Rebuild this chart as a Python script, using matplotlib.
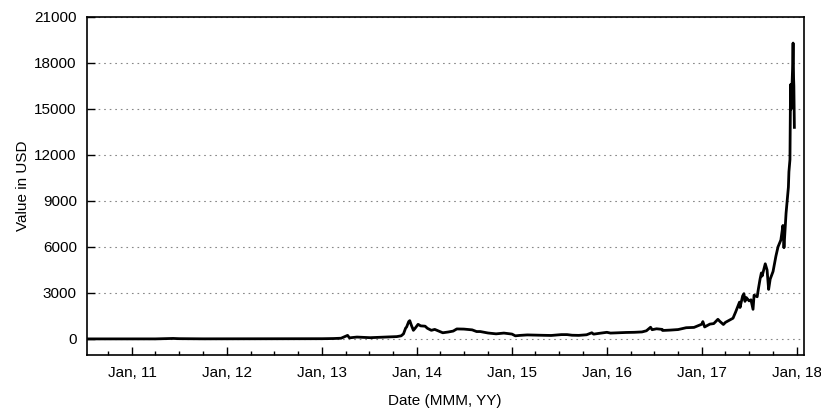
import matplotlib
matplotlib.use("Agg")
import matplotlib.pyplot as plt
import matplotlib.dates as mdates
import numpy as np
import pandas as pd

plt.rcParams['font.family'] = ['Liberation Sans', 'DejaVu Sans']

dates = [
    "2010-07-17", "2010-10-01", "2011-01-01", "2011-04-01", "2011-06-08", "2011-07-01",
    "2011-10-01", "2012-01-01", "2012-04-01", "2012-07-01", "2012-10-01", "2013-01-01",
    "2013-02-15", "2013-03-15", "2013-04-09", "2013-04-16", "2013-05-15", "2013-06-15",
    "2013-07-05", "2013-08-15", "2013-09-15", "2013-10-15", "2013-11-01", "2013-11-10",
    "2013-11-18", "2013-11-22", "2013-11-30", "2013-12-04", "2013-12-10", "2013-12-18",
    "2013-12-24", "2014-01-05", "2014-01-15", "2014-02-01", "2014-02-10", "2014-02-25",
    "2014-03-10", "2014-04-10", "2014-05-01", "2014-05-20", "2014-06-03", "2014-06-30",
    "2014-08-01", "2014-08-18", "2014-09-01", "2014-10-01", "2014-11-01", "2014-12-01",
    "2015-01-01", "2015-01-14", "2015-02-01", "2015-03-01", "2015-04-01", "2015-05-01",
    "2015-06-01", "2015-07-10", "2015-08-01", "2015-08-20", "2015-09-15", "2015-10-15",
    "2015-11-04", "2015-11-11", "2015-12-01", "2016-01-01", "2016-01-15", "2016-02-15",
    "2016-03-15", "2016-04-15", "2016-05-15", "2016-06-01", "2016-06-17", "2016-06-23",
    "2016-07-10", "2016-08-01", "2016-08-02", "2016-09-01", "2016-10-01", "2016-11-01",
    "2016-12-01", "2016-12-31", "2017-01-04", "2017-01-11", "2017-01-31", "2017-02-15",
    "2017-03-03", "2017-03-10", "2017-03-24", "2017-04-01", "2017-04-30", "2017-05-10",
    "2017-05-25", "2017-05-27", "2017-06-06", "2017-06-11", "2017-06-15", "2017-06-20",
    "2017-07-01", "2017-07-08", "2017-07-16", "2017-07-20", "2017-08-01", "2017-08-05",
    "2017-08-12", "2017-08-17", "2017-08-20", "2017-09-01", "2017-09-08", "2017-09-14",
    "2017-09-20", "2017-10-01", "2017-10-12", "2017-10-20", "2017-10-31", "2017-11-08",
    "2017-11-12", "2017-11-20", "2017-11-26", "2017-11-29", "2017-12-01", "2017-12-05",
    "2017-12-07", "2017-12-08", "2017-12-10", "2017-12-13", "2017-12-15", "2017-12-17",
    "2017-12-19", "2017-12-20", "2017-12-22",
]
prices = [
    0.05, 0.1, 0.3, 0.8, 30, 15,
    4, 5, 5, 7, 12, 13,
    25, 45, 230, 70, 120, 100,
    80, 105, 130, 150, 200, 330,
    700, 780, 1130, 1190, 900, 560,
    680, 950, 850, 830, 690, 560,
    620, 400, 450, 510, 650, 640,
    590, 480, 480, 385, 330, 380,
    315, 200, 230, 260, 245, 235,
    225, 280, 280, 240, 230, 270,
    400, 310, 360, 430, 380, 400,
    420, 430, 455, 530, 760, 600,
    660, 620, 550, 575, 610, 730,
    750, 960, 1130, 780, 965, 1000,
    1280, 1150, 940, 1080, 1350, 1750,
    2400, 2050, 2800, 2950, 2450, 2700,
    2480, 2550, 1930, 2850, 2750, 3200,
    3900, 4300, 4100, 4900, 4500, 3230,
    3900, 4400, 5400, 6000, 6450, 7400,
    5950, 8200, 9300, 9900, 10900, 11700,
    16000, 16600, 15000, 16500, 17600, 19300,
    17000, 16500, 13800,
]

x = pd.to_datetime(dates)

W, H = 821, 408
fig = plt.figure(figsize=(W / 100, H / 100), dpi=100)
ax = fig.add_axes([86.5 / W, (H - 355) / H, (804 - 86.5) / W, (355 - 17) / H])

ax.plot(x, prices, color='black', lw=2.0, zorder=3, solid_joinstyle='round')

ax.set_ylim(-1050, 21000)
ax.set_xlim(pd.Timestamp("2010-07-10"), pd.Timestamp("2018-01-28"))
ax.set_yticks(np.arange(0, 21001, 3000))
ax.yaxis.grid(True, linestyle=(0, (1.5, 3.5)), color='#888888', lw=0.8)
ax.set_axisbelow(True)

ax.xaxis.set_major_locator(mdates.YearLocator())
ax.xaxis.set_major_formatter(mdates.DateFormatter("Jan, %y"))
ax.xaxis.set_minor_locator(mdates.MonthLocator(bymonth=[4, 7, 10]))

ax.tick_params(axis='x', which='major', direction='in', length=6, width=1, labelsize=11, pad=8)
ax.tick_params(axis='x', which='minor', direction='in', length=3, width=1)
ax.tick_params(axis='y', direction='in', length=6, width=1, labelsize=11, pad=7)
ax.tick_params(top=False, right=False)

for s in ax.spines.values():
    s.set_linewidth(1.2)

ax.set_xlabel("Date (MMM, YY)", fontsize=11, labelpad=10)
ax.set_ylabel("Value in USD", fontsize=11, labelpad=3)

fig.savefig("out.png", dpi=100)
